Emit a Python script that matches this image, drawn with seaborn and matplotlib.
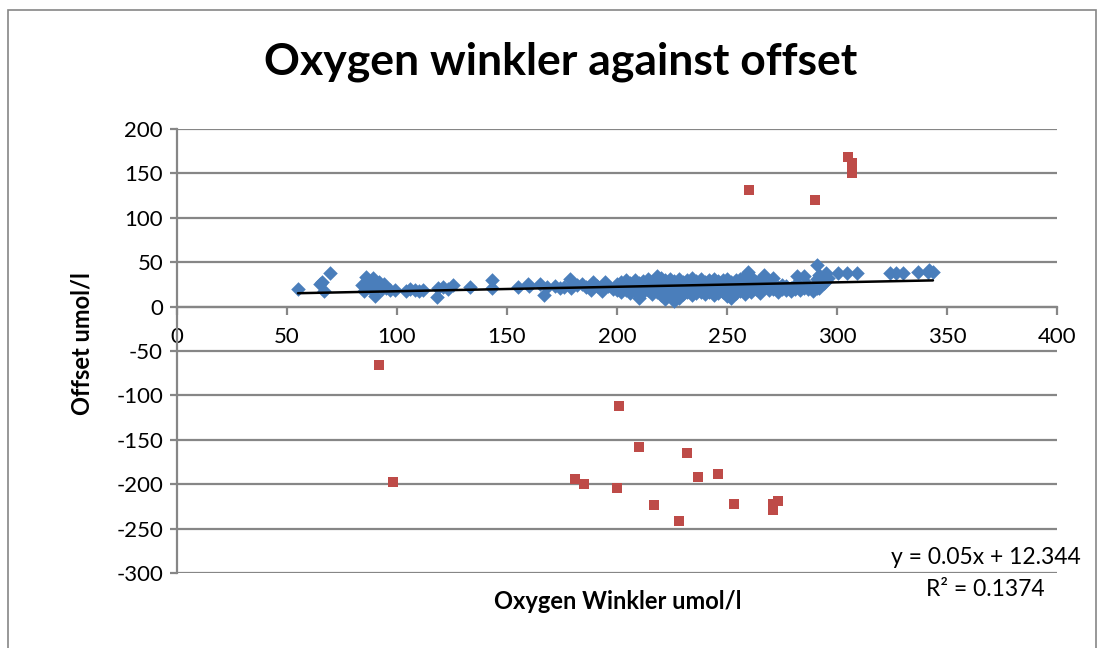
import numpy as np
import pandas as pd
import matplotlib
matplotlib.use('Agg')
import matplotlib.pyplot as plt
import seaborn as sns
from matplotlib.patches import Rectangle

# --- Data ---
blue_x = [55, 65, 66, 67, 69.5,
          84, 85, 86, 87, 88, 88, 89, 90, 90, 91, 92, 93, 94, 95, 97, 99,
          104, 106, 108, 110, 112, 118, 118.5, 121, 123, 125.5, 133, 143, 143,
          155, 159.5, 160, 165, 167, 168, 172, 174, 176,
          178.6, 179, 180, 182, 184, 186, 188, 189, 191, 193, 194.5, 196, 198, 199,
          200, 200, 202, 202, 202, 204, 204, 204, 206, 206, 206, 208, 208, 208,
          210, 210, 210, 212, 212, 212, 214, 214, 214, 216, 216, 216, 218, 218, 218,
          220, 220, 220, 220, 222, 222, 222, 222, 224, 224, 224, 224,
          226, 226, 226, 226, 228, 228, 228, 228, 230, 230, 230, 232, 232, 232,
          234, 234, 234, 234, 236, 236, 236, 238, 238, 238, 240, 240, 240,
          242, 242, 242, 244, 244, 244, 244, 246, 246, 246, 248, 248, 248,
          250, 250, 250, 250, 252, 252, 252, 254, 254, 254, 256, 256, 256,
          258, 258, 258, 258, 259.5, 261, 261, 261, 263, 263, 265, 265, 265,
          267, 267, 269, 269, 271, 271, 273, 273, 275, 275, 277, 277, 279, 279,
          281, 281, 282, 283, 283, 285, 285, 287, 287, 289, 289,
          290.8, 291, 291, 292, 292, 294, 294, 295, 295, 296,
          300.6, 304.4, 309, 324, 327, 330, 337, 341.5, 343.6, 342]
blue_y = [20, 25, 28, 18, 38,
          24, 18, 33, 30, 27, 20, 32, 25, 12, 22, 28, 20, 26, 21, 19, 19,
          18, 20, 19, 18, 19, 11, 20.5, 22.5, 20, 24.8, 22, 30, 21,
          22.5, 25.5, 23, 26, 13.5, 22, 23, 21, 22,
          31, 21, 26, 24, 26, 22, 19, 28, 23, 18, 28, 23, 20, 22.5,
          19, 26, 16, 22, 28, 19, 25, 30, 15, 22, 27, 18, 24, 30,
          10, 21, 27, 16, 23, 29, 19, 25, 31, 14, 21, 28, 17, 24, 35,
          13, 20, 27, 32, 9, 16, 23, 30, 12, 19, 26, 31,
          6, 15, 22, 29, 10, 18, 25, 31, 14, 21, 28, 16, 23, 30,
          13, 20, 27, 32, 15, 22, 29, 17, 24, 31, 14, 21, 28,
          16, 23, 30, 13, 20, 27, 31, 15, 22, 29, 17, 24, 30,
          12, 19, 26, 31, 10, 21, 28, 15, 23, 30, 18, 25, 31,
          14, 22, 29, 35, 39, 17, 24, 33, 20, 28, 15, 23, 30,
          21, 36, 19, 26, 32.6, 20, 22, 17, 20, 24, 19, 23, 21, 18,
          20, 24, 35, 19, 23, 35, 21, 20, 24, 18, 22,
          47, 21, 31, 36, 21, 33, 27, 38, 29, 32,
          38, 38, 38, 38, 38, 38, 39, 39, 39, 41]

red_x = [260, 290, 305, 307, 307, 307,
         92, 201, 210, 232, 98, 181, 185, 200, 237, 246, 217, 253, 228, 271, 273, 271]
red_y = [131, 120, 169, 162, 155, 150,
         -66, -112, -158, -165, -197, -194, -200, -204, -192, -189, -223, -222, -241, -222, -219, -229]

slope = 0.05
intercept = 12.344
r_squared = 0.1374

# --- Styling ---
sns.set_theme(style="white")
plt.rcParams['font.family'] = ['Lato', 'DejaVu Sans']
plt.rcParams['axes.unicode_minus'] = False
plt.rcParams['text.color'] = 'black'
grid_col = '#868686'

fig = plt.figure(figsize=(11.02, 6.48), dpi=100)
ax = fig.add_axes([0.1606, 0.1157, 0.7986, 0.6852])

blue_df = pd.DataFrame({'x': blue_x, 'y': blue_y})
red_df = pd.DataFrame({'x': red_x, 'y': red_y})

sns.scatterplot(data=blue_df, x='x', y='y', marker='D', s=55, color='#4A7EBB',
                edgecolor='#4A7EBB', linewidth=0, ax=ax, zorder=3)
sns.scatterplot(data=red_df, x='x', y='y', marker='s', s=55, color='#BE4B48',
                edgecolor='#BE4B48', linewidth=0, ax=ax, zorder=3)

# linear trendline over the blue data range
tx = np.array([min(blue_x), max(blue_x)])
sns.lineplot(x=tx, y=slope * tx + intercept, color='black', linewidth=1.8, ax=ax, zorder=4)

ax.set_xlim(0, 400)
ax.set_ylim(-300, 200)
ax.set_xticks(range(0, 401, 50))
ax.set_yticks(range(-300, 201, 50))
ax.yaxis.grid(True, color=grid_col, linewidth=1.6)
ax.xaxis.grid(False)
ax.set_axisbelow(True)

for side in ['top', 'right']:
    ax.spines[side].set_visible(False)
ax.spines['bottom'].set_position(('data', 0))
ax.spines['bottom'].set_color(grid_col)
ax.spines['bottom'].set_linewidth(1.6)
ax.spines['left'].set_color(grid_col)
ax.spines['left'].set_linewidth(1.6)
ax.tick_params(axis='x', direction='out', length=6, width=1.6, color=grid_col,
               labelsize=16, pad=9, labelcolor='black', bottom=True)
ax.tick_params(axis='y', direction='out', length=5, width=1.6, color=grid_col,
               labelsize=16, pad=5, labelcolor='black', left=True)
ax.set_xlabel('')
ax.set_ylabel('')

fig.text(0.509, 0.904, 'Oxygen winkler against offset', ha='center', va='center',
         fontsize=32, fontweight='bold')
fig.text(0.074, 0.47, 'Offset umol/l', ha='center', va='center', rotation=90,
         fontsize=17, fontweight='bold')
fig.text(0.561, 0.072, 'Oxygen Winkler umol/l', ha='center', va='center',
         fontsize=17, fontweight='bold')
fig.text(0.981, 0.140, f'y = {slope}x + {intercept}', ha='right', va='center', fontsize=16.5)
fig.text(0.894, 0.091, f'R² = {r_squared}', ha='center', va='center', fontsize=16.5)

fig.patches.append(Rectangle((0.007, -0.1), 0.988, 1.085, transform=fig.transFigure,
                             fill=False, edgecolor=grid_col, linewidth=1.2))

fig.savefig('out.png', dpi=100)
